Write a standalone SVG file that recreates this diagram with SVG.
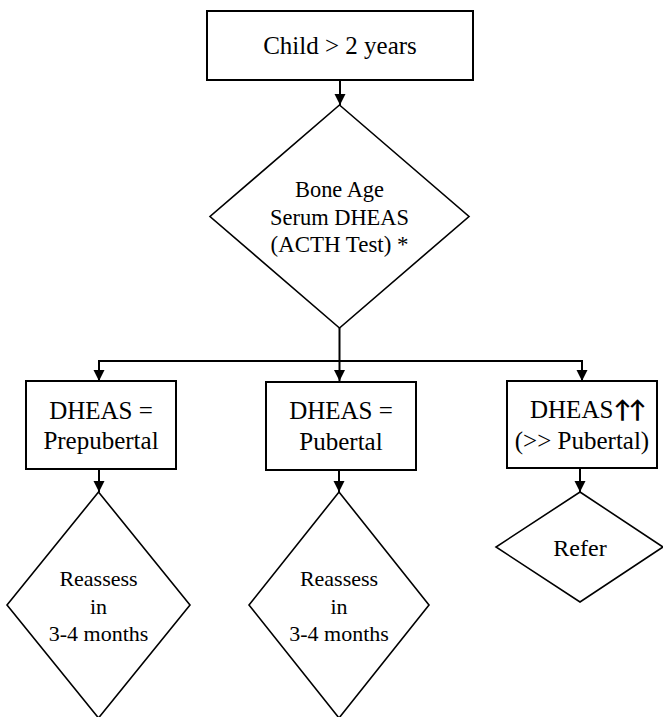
<svg xmlns="http://www.w3.org/2000/svg" width="663" height="717" viewBox="0 0 663 717">
  <defs>
    <marker id="arrow" markerUnits="userSpaceOnUse" markerWidth="12" markerHeight="12" refX="11" refY="5.5" orient="auto">
      <path d="M0,0 L11,5.5 L0,11 z" fill="#000000"/>
    </marker>
  </defs>
  <rect width="663" height="717" fill="#ffffff"/>
  <g id="connectors" fill="none" stroke="#000000" stroke-width="2">
    <path d="M340,80 V105" marker-end="url(#arrow)"/>
    <path d="M339.5,328 V381" marker-end="url(#arrow)"/>
    <path d="M99,381 V361 H582 V381" marker-end="url(#arrow)"/>
    <path d="M99,361 V381" marker-end="url(#arrow)"/>
    <path d="M99,469 V492" marker-end="url(#arrow)"/>
    <path d="M339,470 V492" marker-end="url(#arrow)"/>
    <path d="M580,468 V492" marker-end="url(#arrow)"/>
  </g>
  <g id="child">
    <rect x="207" y="11" width="266" height="69" fill="#ffffff" stroke="#000000" stroke-width="2"/>
    <text x="340" y="54" font-family="Liberation Serif" font-size="25" text-anchor="middle">Child &gt; 2 years</text>
  </g>
  <g id="workup">
    <polygon points="339.5,105 469,216.5 339.5,328 210,216.5" fill="#ffffff" stroke="#000000" stroke-width="1.6"/>
    <text x="339.5" y="197" font-family="Liberation Serif" font-size="24" text-anchor="middle" textLength="89" lengthAdjust="spacingAndGlyphs">Bone Age</text>
    <text x="339.5" y="225" font-family="Liberation Serif" font-size="24" text-anchor="middle" textLength="139" lengthAdjust="spacingAndGlyphs">Serum DHEAS</text>
    <text x="339.5" y="252" font-family="Liberation Serif" font-size="24" text-anchor="middle" textLength="138" lengthAdjust="spacingAndGlyphs">(ACTH Test) *</text>
  </g>
  <g id="prepubertal">
    <rect x="26" y="381" width="150" height="88" fill="#ffffff" stroke="#000000" stroke-width="2"/>
    <text x="101" y="419" font-family="Liberation Serif" font-size="25" text-anchor="middle">DHEAS =</text>
    <text x="101" y="449" font-family="Liberation Serif" font-size="25" text-anchor="middle">Prepubertal</text>
  </g>
  <g id="pubertal">
    <rect x="266" y="382" width="150" height="88" fill="#ffffff" stroke="#000000" stroke-width="2"/>
    <text x="341" y="419" font-family="Liberation Serif" font-size="25" text-anchor="middle">DHEAS =</text>
    <text x="341" y="450" font-family="Liberation Serif" font-size="25" text-anchor="middle">Pubertal</text>
  </g>
  <g id="high">
    <rect x="507" y="381" width="150" height="87" fill="#ffffff" stroke="#000000" stroke-width="2"/>
    <text x="530" y="418" font-family="Liberation Serif" font-size="25">DHEAS<tspan font-family="Lato" font-weight="bold" font-size="24" letter-spacing="-3">↑↑</tspan></text>
    <text x="582" y="449" font-family="Liberation Serif" font-size="25" text-anchor="middle">(&gt;&gt; Pubertal)</text>
  </g>
  <g id="reassess-1">
    <polygon points="98.5,492 190,605 98.5,718 7,605" fill="#ffffff" stroke="#000000" stroke-width="1.6"/>
    <text x="98.5" y="586" font-family="Liberation Serif" font-size="22" text-anchor="middle">Reassess</text>
    <text x="98.5" y="614" font-family="Liberation Serif" font-size="22" text-anchor="middle">in</text>
    <text x="98.5" y="641" font-family="Liberation Serif" font-size="22" text-anchor="middle">3-4 months</text>
  </g>
  <g id="reassess-2">
    <polygon points="339,492 429,605 339,718 249,605" fill="#ffffff" stroke="#000000" stroke-width="1.6"/>
    <text x="339" y="586" font-family="Liberation Serif" font-size="22" text-anchor="middle">Reassess</text>
    <text x="339" y="614" font-family="Liberation Serif" font-size="22" text-anchor="middle">in</text>
    <text x="339" y="641" font-family="Liberation Serif" font-size="22" text-anchor="middle">3-4 months</text>
  </g>
  <g id="refer">
    <polygon points="580,492 663,547 580,602 496,547" fill="#ffffff" stroke="#000000" stroke-width="1.6"/>
    <text x="580" y="556" font-family="Liberation Serif" font-size="24" text-anchor="middle">Refer</text>
  </g>
</svg>
